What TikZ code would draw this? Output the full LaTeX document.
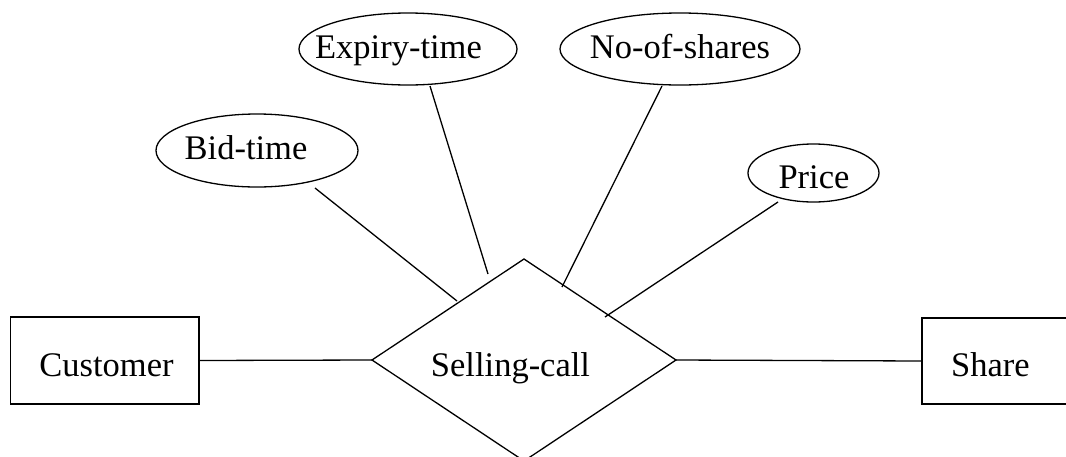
\documentclass[tikz,border=0pt]{standalone}
\usepackage{fontspec}
\setmainfont{Liberation Serif}
\usetikzlibrary{shapes.geometric,calc}
% text centred at a horizontal offset #1 from the node centre, baseline raised by #2
\newcommand\placedtext[3]{\makebox[0pt]{\hspace*{#1}\hspace*{#1}\raisebox{#2}{#3}}}
\begin{document}
\begin{tikzpicture}[x=1pt,y=-1pt,
  every node/.style={inner sep=0pt, outer sep=0pt, text height=0pt, text depth=0pt,
    font=\fontsize{34.5}{40}\selectfont, line width=1.3pt},
  entity/.style={draw, rectangle},
  attribute/.style={draw, ellipse},
  relation/.style={draw, diamond},
  link/.style={line width=1.3pt}]
\useasboundingbox (0,0) rectangle (1066,456);
\clip (0,0) rectangle (1066,456);
\fill[white] (0,0) rectangle (1066,456);

% entities and relationship
\node[entity, minimum width=188.5pt, minimum height=87pt] (cust) at (104.75,360.5)
  {\placedtext{1.75pt}{-15.5pt}{Customer}};
\node[relation, minimum width=304pt, minimum height=202pt] (sc) at (524,360)
  {\placedtext{-13.5pt}{-16pt}{Selling-call}};
\node[entity, minimum width=158pt, minimum height=86pt] (share) at (1001,361)
  {\placedtext{-10.5pt}{-15pt}{Share}};

% attributes of the relationship
\node[attribute, minimum width=202pt, minimum height=73pt] (bid) at (257,150.5)
  {\placedtext{-11pt}{-8.5pt}{Bid-time}};
\node[attribute, minimum width=218pt, minimum height=72pt] (exp) at (408,49)
  {\placedtext{-9.5pt}{-9pt}{Expiry-time}};
\node[attribute, minimum width=240pt, minimum height=72pt] (nos) at (680,49)
  {\placedtext{0pt}{-9pt}{No-of-shares}};
\node[attribute, minimum width=131pt, minimum height=58pt] (price) at (813.5,173)
  {\placedtext{0.5pt}{-15pt}{Price}};

% connectors
\draw[link] (cust.east) -- (sc.west);
\draw[link] (sc.east) -- (share.west);
\draw[link] ($(bid.center)+(58,37.5)$) -- ($(sc.center)+(-67,-59)$);
\draw[link] ($(exp.center)+(22,37)$) -- ($(sc.center)+(-36,-86)$);
\draw[link] ($(nos.center)+(-18,37)$) -- ($(sc.center)+(38,-73)$);
\draw[link] ($(price.center)+(-35.5,29)$) -- ($(sc.center)+(81,-43)$);
\end{tikzpicture}
\end{document}
